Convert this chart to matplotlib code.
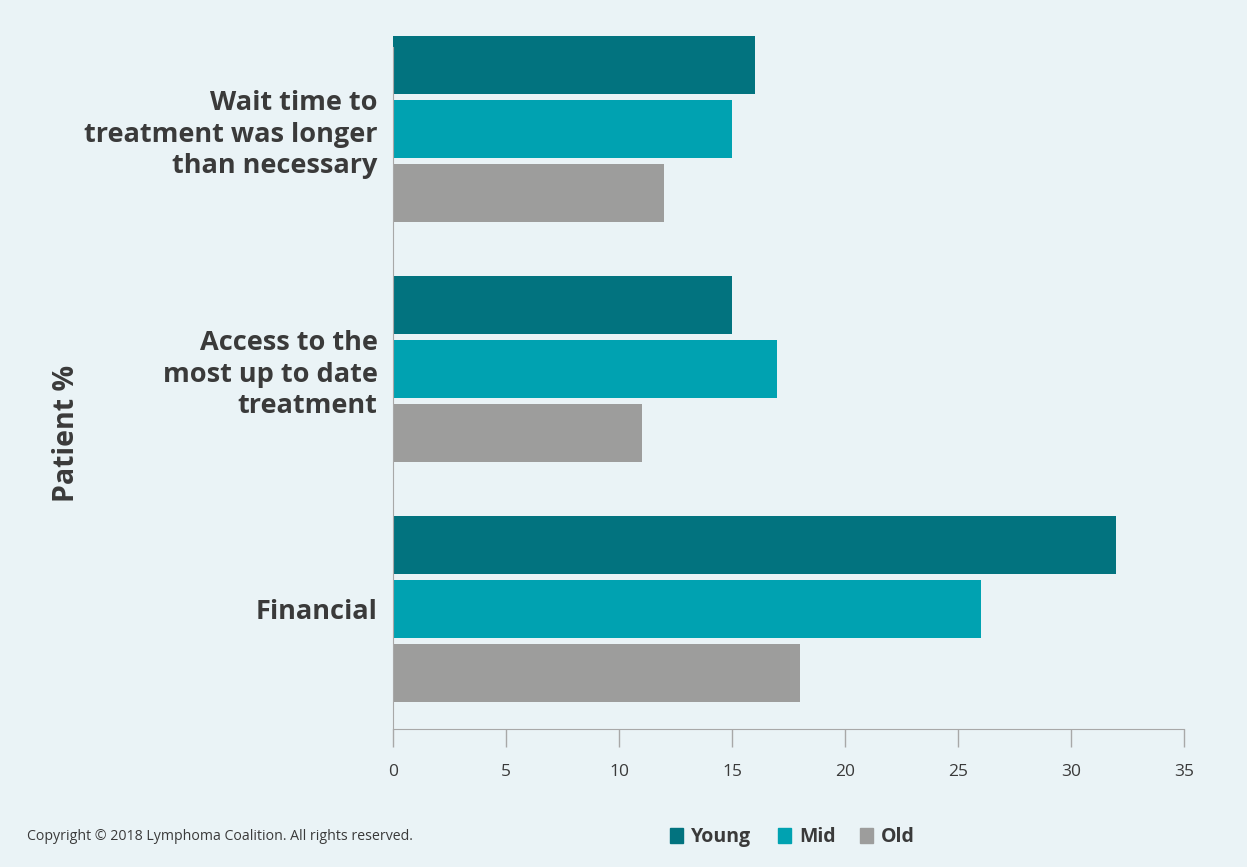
import matplotlib.pyplot as plt
import numpy as np

categories = ["Financial", "Access to the\nmost up to date\ntreatment",
              "Wait time to\ntreatment was longer\nthan necessary"]
series_names = ["Young", "Mid", "Old"]
young = [32, 15, 16]
mid = [26, 17, 15]
old = [18, 11, 12]
x_ticks = [0, 5, 10, 15, 20, 25, 30, 35]

colors = ["#02737F", "#00A2B1", "#9D9D9C"]
bg = "#EAF3F6"
text_col = "#3A3A3A"

plt.rcParams['font.family'] = ['Open Sans', 'DejaVu Sans']

fig = plt.figure(figsize=(12.47, 8.67), dpi=100, facecolor=bg)
ax = fig.add_axes([393 / 1247, 1 - 729 / 867, (1184 - 393) / 1247, (729 - 36) / 867])
ax.set_facecolor(bg)

y = np.arange(len(categories))
pitch = 0.2667
height = 0.2417
for i, (vals, c) in enumerate(zip([young, mid, old], colors)):
    ax.barh(y + (1 - i) * pitch, vals, height=height, color=c, label=series_names[i])

ax.set_xlim(0, 35)
ax.set_ylim(-0.5, 2.3875)
ax.set_xticks(x_ticks)
ax.set_xticklabels([str(t) for t in x_ticks], fontsize=12.5, color=text_col)
ax.set_yticks(y)
ax.set_yticklabels(categories, fontsize=19.5, fontweight='bold', color=text_col,
                   linespacing=1.27)
ax.tick_params(axis='y', length=0, pad=11)
ax.tick_params(axis='x', length=13, width=1, color="#A8A8A8", pad=12)

for s in ['top', 'right']:
    ax.spines[s].set_visible(False)
ax.spines['left'].set_color("#A8A8A8")
ax.spines['bottom'].set_color("#A8A8A8")
ax.spines['left'].set_bounds(-0.5, 2.342)

fig.text(66 / 1247, 1 - 433 / 867, "Patient %", rotation=90, ha='center', va='center',
         fontsize=20.5, fontweight='bold', color=text_col)

fig.text(27 / 1247, 1 - 837 / 867, "Copyright \u00a9 2018 Lymphoma Coalition. All rights reserved.",
         ha='left', va='center', fontsize=10.2, color=text_col)

# legend as squares + bold labels
leg_x = [670, 778, 860]
for name, c, lx in zip(series_names, colors, leg_x):
    fig.patches.append(plt.Rectangle((lx / 1247, 1 - 843 / 867), 13 / 1247, 15 / 867,
                                     transform=fig.transFigure, color=c, figure=fig))
    fig.text((lx + 21) / 1247, 1 - 837 / 867, name, ha='left', va='center',
             fontsize=14, fontweight='bold', color=text_col)

fig.savefig("out.png", dpi=100, facecolor=bg)
